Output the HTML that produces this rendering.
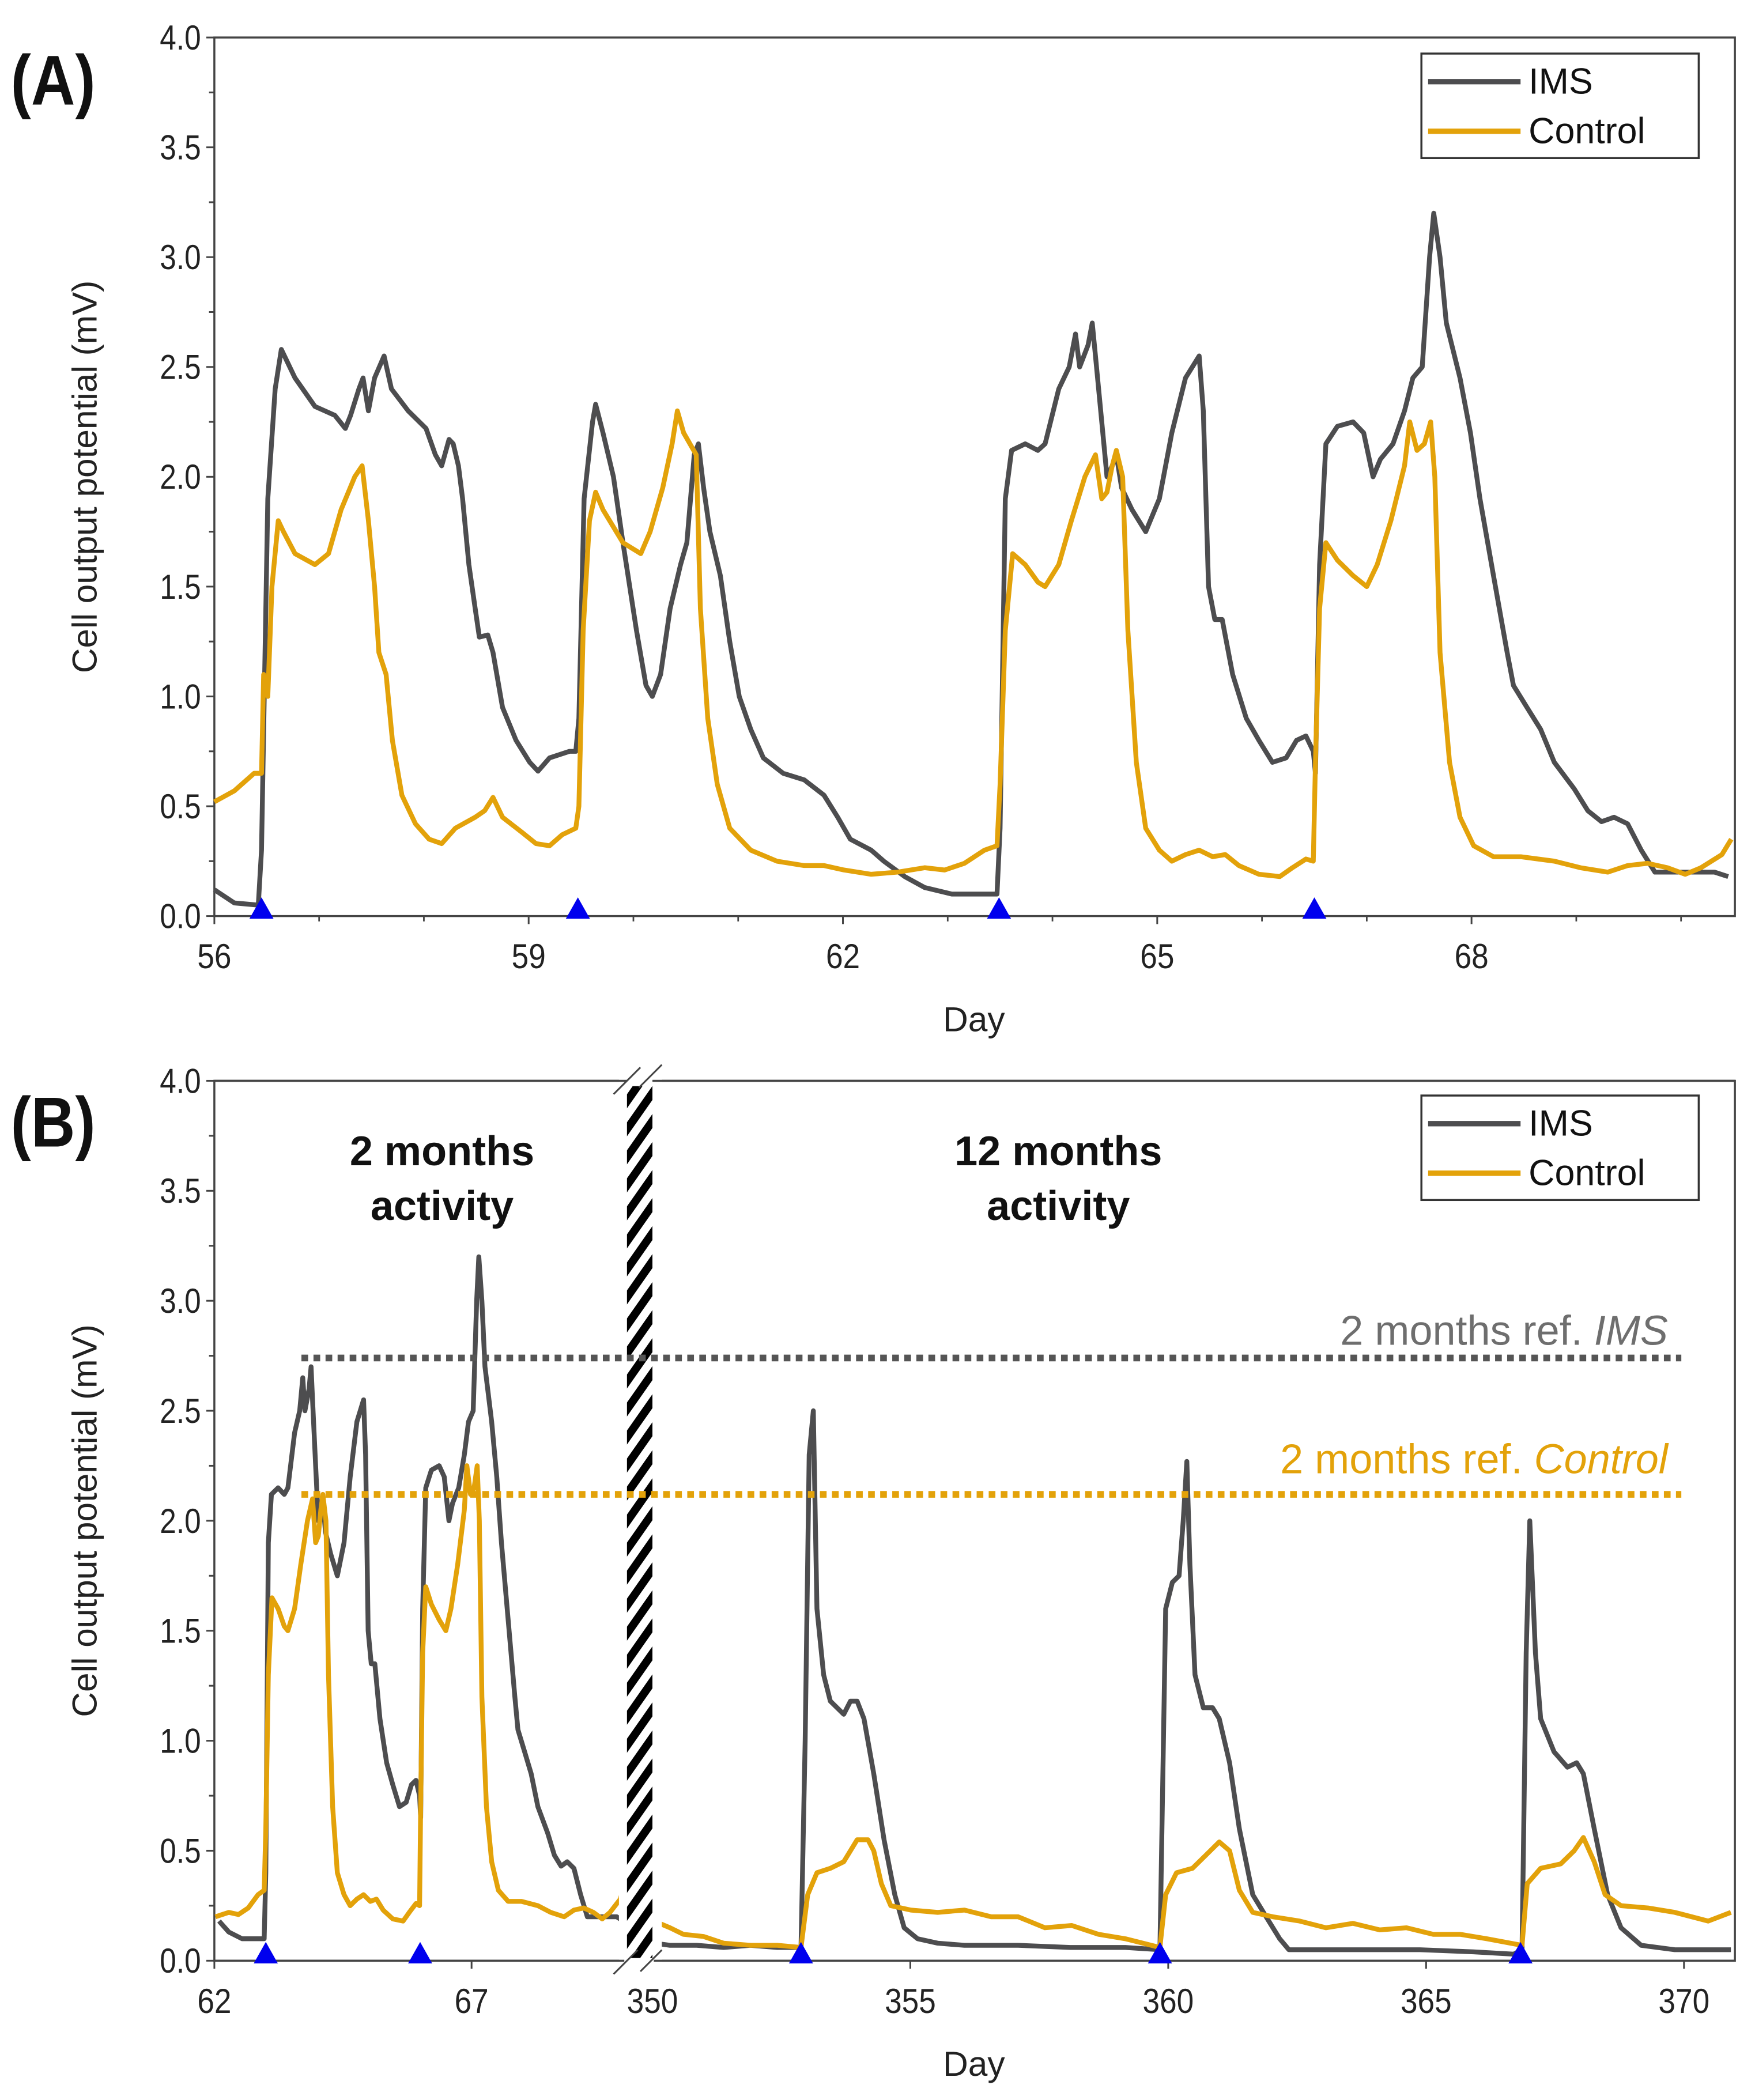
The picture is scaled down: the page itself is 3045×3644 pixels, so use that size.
<!DOCTYPE html>
<html><head><meta charset="utf-8"><style>
html,body{margin:0;padding:0;background:#fff}
svg{display:block}
text{font-family:"Liberation Sans",sans-serif}
</style></head><body>
<svg id="fig" width="3045" height="3644" viewBox="0 0 1310 1568" preserveAspectRatio="none" xmlns="http://www.w3.org/2000/svg">
<defs>
<pattern id="hatch" patternUnits="userSpaceOnUse" width="12" height="12" patternTransform="rotate(-55)">
<rect width="12" height="6" fill="#000"/>
</pattern>
</defs>
<g id="panelA"></g>
<g id="panelB"></g>
</svg>
<script>
// ---------- DATA ----------
const yTicks = [0.0,0.5,1.0,1.5,2.0,2.5,3.0,3.5,4.0];
const xTicksA = [56,59,62,65,68];
const xTicksBLeft = [62,67];
const xTicksBRight = [350,355,360,365,370];

const imsADays = [56.00,56.19,56.42,56.45,56.51,56.58,56.64,56.77,56.96,57.15,57.25,57.30,57.38,57.42,57.47,57.53,57.62,57.69,57.85,58.02,58.11,58.17,58.24,58.28,58.33,58.37,58.43,58.49,58.53,58.61,58.66,58.75,58.88,59.01,59.09,59.20,59.39,59.45,59.48,59.53,59.61,59.64,59.71,59.81,59.90,60.03,60.12,60.18,60.26,60.35,60.45,60.51,60.58,60.62,60.67,60.73,60.83,60.92,61.01,61.12,61.24,61.43,61.63,61.82,61.95,62.07,62.27,62.39,62.59,62.78,63.04,63.47,63.50,63.55,63.61,63.74,63.86,63.93,64.06,64.16,64.22,64.26,64.34,64.38,64.41,64.47,64.52,64.57,64.61,64.66,64.76,64.89,65.02,65.14,65.27,65.40,65.44,65.49,65.55,65.62,65.72,65.85,65.97,66.10,66.23,66.33,66.42,66.49,66.51,66.55,66.61,66.72,66.87,66.97,67.06,67.13,67.25,67.36,67.44,67.53,67.60,67.64,67.70,67.76,67.89,67.99,68.08,68.21,68.34,68.40,68.53,68.66,68.79,68.98,69.11,69.24,69.36,69.49,69.62,69.75,69.94,70.32,70.45];
const imsAVals = [0.12,0.06,0.05,0.3,1.9,2.4,2.58,2.45,2.32,2.28,2.22,2.28,2.4,2.45,2.3,2.45,2.55,2.4,2.3,2.22,2.1,2.05,2.17,2.15,2.05,1.9,1.6,1.4,1.27,1.28,1.2,0.95,0.8,0.7,0.66,0.72,0.75,0.75,0.9,1.9,2.25,2.33,2.2,2.0,1.7,1.3,1.05,1.0,1.1,1.4,1.6,1.7,2.1,2.15,1.95,1.75,1.55,1.25,1.0,0.85,0.72,0.65,0.62,0.55,0.45,0.35,0.3,0.25,0.18,0.13,0.1,0.1,0.4,1.9,2.12,2.15,2.12,2.15,2.4,2.5,2.65,2.5,2.6,2.7,2.55,2.25,2.0,2.05,2.1,1.95,1.85,1.75,1.9,2.2,2.45,2.55,2.3,1.5,1.35,1.35,1.1,0.9,0.8,0.7,0.72,0.8,0.82,0.75,0.65,1.6,2.15,2.23,2.25,2.2,2.0,2.08,2.15,2.3,2.45,2.5,3.0,3.2,3.0,2.7,2.45,2.2,1.9,1.55,1.2,1.05,0.95,0.85,0.7,0.58,0.48,0.43,0.45,0.42,0.3,0.2,0.2,0.2,0.18];

const ctrlADays = [56.00,56.19,56.38,56.45,56.47,56.51,56.55,56.61,56.66,56.77,56.96,57.09,57.21,57.34,57.41,57.47,57.53,57.57,57.64,57.70,57.79,57.92,58.05,58.17,58.30,58.49,58.58,58.66,58.75,58.94,59.07,59.20,59.32,59.45,59.48,59.52,59.58,59.64,59.71,59.90,60.07,60.16,60.28,60.37,60.42,60.48,60.54,60.60,60.64,60.71,60.80,60.92,61.12,61.37,61.63,61.82,62.01,62.27,62.52,62.78,62.97,63.16,63.35,63.47,63.50,63.55,63.62,63.74,63.86,63.93,64.06,64.18,64.31,64.41,64.47,64.52,64.57,64.61,64.67,64.72,64.80,64.89,65.02,65.14,65.27,65.40,65.53,65.65,65.78,65.97,66.17,66.29,66.42,66.49,66.51,66.55,66.61,66.72,66.87,67.00,67.10,67.23,67.36,67.41,67.48,67.55,67.61,67.65,67.70,67.79,67.89,68.02,68.21,68.47,68.79,69.04,69.30,69.49,69.68,69.87,70.04,70.19,70.39,70.48];
const ctrlAVals = [0.52,0.57,0.65,0.65,1.1,1.0,1.5,1.8,1.75,1.65,1.6,1.65,1.85,2.0,2.05,1.8,1.5,1.2,1.1,0.8,0.55,0.42,0.35,0.33,0.4,0.45,0.48,0.54,0.45,0.38,0.33,0.32,0.37,0.4,0.5,1.3,1.8,1.93,1.85,1.7,1.65,1.75,1.95,2.15,2.3,2.2,2.15,2.1,1.4,0.9,0.6,0.4,0.3,0.25,0.23,0.23,0.21,0.19,0.2,0.22,0.21,0.24,0.3,0.32,0.6,1.3,1.65,1.6,1.52,1.5,1.6,1.8,2.0,2.1,1.9,1.93,2.05,2.12,2.0,1.3,0.7,0.4,0.3,0.25,0.28,0.3,0.27,0.28,0.23,0.19,0.18,0.22,0.26,0.25,0.7,1.4,1.7,1.62,1.55,1.5,1.6,1.8,2.05,2.25,2.12,2.15,2.25,2.0,1.2,0.7,0.45,0.32,0.27,0.27,0.25,0.22,0.2,0.23,0.24,0.22,0.19,0.22,0.28,0.35];

// Panel B left segment re-plots the 2-month record with a day offset
const bLeftDayOffset = -0.5;

const imsBRDays = [350.03,350.34,350.86,351.38,351.90,352.42,352.88,352.96,353.04,353.12,353.19,353.32,353.45,353.71,353.84,353.97,354.10,354.29,354.49,354.70,354.88,355.14,355.53,356.05,357.09,358.10,359.17,359.84,359.95,360.08,360.21,360.29,360.36,360.42,360.52,360.68,360.86,360.99,361.19,361.38,361.64,361.90,362.16,362.34,362.81,363.84,364.88,365.92,366.70,366.86,366.94,367.01,367.12,367.22,367.48,367.74,367.92,368.05,368.26,368.52,368.78,369.17,369.82,370.91];
const imsBRVals = [0.08,0.07,0.07,0.06,0.07,0.06,0.06,1.0,2.3,2.5,1.6,1.3,1.18,1.12,1.18,1.18,1.1,0.85,0.55,0.3,0.15,0.1,0.08,0.07,0.07,0.06,0.06,0.05,1.6,1.72,1.75,2.0,2.27,1.8,1.3,1.15,1.15,1.1,0.9,0.6,0.3,0.2,0.1,0.05,0.05,0.05,0.05,0.04,0.03,0.05,1.4,2.0,1.4,1.1,0.95,0.88,0.9,0.85,0.6,0.3,0.15,0.07,0.05,0.05];
const ctrlBRDays = [350.03,350.34,350.60,350.99,351.38,351.90,352.42,352.88,353.01,353.19,353.45,353.71,353.97,354.18,354.29,354.44,354.62,355.01,355.53,356.05,356.57,357.09,357.61,358.13,358.65,359.17,359.84,359.95,360.16,360.47,360.73,360.99,361.19,361.38,361.64,362.03,362.55,363.06,363.58,364.10,364.62,365.14,365.66,366.18,366.86,366.96,367.22,367.61,367.87,368.05,368.26,368.47,368.78,369.30,369.82,370.47,370.91];
const ctrlBRVals = [0.18,0.15,0.12,0.11,0.08,0.07,0.07,0.06,0.3,0.4,0.42,0.45,0.55,0.55,0.5,0.35,0.25,0.23,0.22,0.23,0.2,0.2,0.15,0.16,0.12,0.1,0.06,0.3,0.4,0.42,0.48,0.54,0.5,0.32,0.22,0.2,0.18,0.15,0.17,0.14,0.15,0.12,0.12,0.1,0.07,0.35,0.42,0.44,0.5,0.56,0.45,0.3,0.25,0.24,0.22,0.18,0.22];

const triA = [56.45,59.47,63.49,66.5];
const triBLeft = [63.0,66.0];
const triBRight = [352.88,359.84,366.83];
const refIMS = 2.74;
const refControl = 2.12;

// ---------- DRAWING ----------
const NS = "http://www.w3.org/2000/svg";
const IMS_C = "#4d4d4f", CTRL_C = "#e3a20a";
function mk(parent, tag, attrs, txt){
  const e = document.createElementNS(NS, tag);
  for (const k in attrs) e.setAttribute(k, attrs[k]);
  if (txt !== undefined) e.textContent = txt;
  parent.appendChild(e);
  return e;
}
const PL = 160, PR = 1295;

function drawFrame(g, top, bot, yScale){
  const f = mk(g,'rect',{x:PL,y:top,width:PR-PL,height:bot-top,fill:'none',stroke:'#444','stroke-width':1.5});
  
  
  for (let v=0; v<=4.0001; v+=0.25){
    const y = yScale(v);
    const isMaj = Math.abs(v*2-Math.round(v*2))<1e-6;
    const t = mk(g,'line',{x1:PL-(isMaj?6:4),x2:PL,y1:y,y2:y,stroke:'#444','stroke-width':1.3});
    
    
  }
  yTicks.forEach(v=>{
    const t = mk(g,'text',{x:PL-10,y:yScale(v)+9,'text-anchor':'end','font-size':26,fill:'#222',transform:`translate(${PL-10},${yScale(v)+9}) scale(0.85,1) translate(${-(PL-10)},${-(yScale(v)+9)})`}, v.toFixed(1));
    
    
  });
  const cy = (top+bot)/2;
  const yl = mk(g,'text',{x:0,y:0,'text-anchor':'middle','font-size':26,fill:'#222',transform:`translate(72,${cy}) rotate(-90)`}, 'Cell output potential (mV)');
  
  
  const xl = mk(g,'text',{x:727,y:bot+86,'text-anchor':'middle','font-size':26,fill:'#222'}, 'Day');
  
  
}
function xTick(g, x, bot, label){
  const t = mk(g,'line',{x1:x,x2:x,y1:bot,y2:bot+6,stroke:'#444','stroke-width':1.3});
  
  
  const l = mk(g,'text',{x:x,y:bot+39,'text-anchor':'middle','font-size':26,fill:'#222',transform:`translate(${x},0) scale(0.88,1) translate(${-x},0)`}, label);
  
  
}
function line(g, days, vals, xs, ys, color, name, clip, w){
  let d='';
  for (let i=0;i<days.length;i++){
    const x = xs(days[i]);
    if (clip && (x<clip[0]-0.5 || x>clip[1]+0.5)) continue;
    d += (d?'L':'M') + x.toFixed(1) + ',' + ys(vals[i]).toFixed(1);
  }
  const p = mk(g,'path',{d:d,fill:'none',stroke:color,'stroke-width':w||3.6,'stroke-linejoin':'round'});
  
  
}
function triangles(g, days, xs, bot){
  days.forEach(dd=>{
    const x = xs(dd);
    const t = mk(g,'polygon',{points:`${x-9},${bot+2} ${x+9},${bot+2} ${x},${bot-14}`,fill:'#0000ee'});
    
    
  });
}
function legend(g, y0){
  const b = mk(g,'rect',{x:1061,y:y0,width:207,height:78,fill:'#fff',stroke:'#333','stroke-width':1.5});
  
  
  [['IMS',IMS_C,y0+21],['Control',CTRL_C,y0+58]].forEach(([n,c,y])=>{
    const l = mk(g,'line',{x1:1066,x2:1135,y1:y,y2:y,stroke:c,'stroke-width':4});
    
    
    const t = mk(g,'text',{x:1141,y:y+9,'font-size':27,fill:'#111'}, n);
    
    
  });
}
function panelLabel(g, y, s){
  const t = mk(g,'text',{x:8,y:y,'font-size':48,'font-weight':'bold',fill:'#111',transform:`translate(8,${y}) scale(0.95,1.1) translate(-8,${-y})`}, s);
  
  
}

// Panel A
(function(){
  const g = document.getElementById('panelA');
  const top=28, bot=684;
  const ys = v => bot - v*(bot-top)/4;
  const xs = d => PL + (d-56)*78.2;
  drawFrame(g, top, bot, ys);
  for (let d=56; d<=70; d+=1){ if (!xTicksA.includes(d)){ const m=mk(g,'line',{x1:xs(d),x2:xs(d),y1:bot,y2:bot+4,stroke:'#444','stroke-width':1.2});   } }
  xTicksA.forEach(d=>xTick(g, xs(d), bot, String(d)));
  line(g, imsADays, imsAVals, xs, ys, IMS_C, 'ims-line');
  line(g, ctrlADays, ctrlAVals, xs, ys, CTRL_C, 'control-line');
  triangles(g, triA, xs, bot);
  legend(g, 40);
  panelLabel(g, 78, '(A)');
})();

// Panel B
(function(){
  const g = document.getElementById('panelB');
  const top=807, bot=1464;
  const ys = v => bot - v*(bot-top)/4;
  const xl = d => PL + (d-62)*38.4;
  const xr = d => 487 + (d-350)*38.5;
  drawFrame(g, top, bot, ys);
  xTicksBLeft.forEach(d=>xTick(g, xl(d), bot, String(d)));
  xTicksBRight.forEach(d=>xTick(g, xr(d), bot, String(d)));
  const shiftedD1 = imsADays.map(d=>d+bLeftDayOffset);
  const shiftedD2 = ctrlADays.map(d=>d+bLeftDayOffset);
  line(g, shiftedD1, imsAVals, xl, ys, IMS_C, 'ims-line-2months', [PL,466]);
  line(g, shiftedD2, ctrlAVals, xl, ys, CTRL_C, 'control-line-2months', [PL,466]);
  line(g, imsBRDays, imsBRVals, xr, ys, IMS_C, 'ims-line-12months');
  line(g, ctrlBRDays, ctrlBRVals, xr, ys, CTRL_C, 'control-line-12months');
  // axis break
  const wb = mk(g,'rect',{x:462,y:top-12,width:32,height:bot-top+26,fill:'#fff'});
  
  
  const hb = mk(g,'rect',{x:468,y:top+4,width:19,height:bot-top-6,fill:'url(#hatch)'});
  
  
  mk(g,'line',{x1:PL,x2:468,y1:top,y2:top,stroke:'#444','stroke-width':1.5});
  mk(g,'line',{x1:487,x2:PR,y1:top,y2:top,stroke:'#444','stroke-width':1.5});
  mk(g,'line',{x1:PL,x2:466,y1:bot,y2:bot,stroke:'#444','stroke-width':1.5});
  mk(g,'line',{x1:488,x2:PR,y1:bot,y2:bot,stroke:'#444','stroke-width':1.5});
  [[458,top+10,478,top-10],[477,top+5,494,top-12],[458,bot+10,476,bot-8],[478,bot+8,494,bot-8]].forEach(s=>{
    const l = mk(g,'line',{x1:s[0],y1:s[1],x2:s[2],y2:s[3],stroke:'#444','stroke-width':1.3});
    
    
  });
  // reference lines (drawn over the break)
  const r1 = mk(g,'line',{x1:225,x2:1255,y1:ys(refIMS),y2:ys(refIMS),stroke:'#555','stroke-width':5,'stroke-dasharray':'5,4'});
  
  
  const r2 = mk(g,'line',{x1:225,x2:1255,y1:ys(refControl),y2:ys(refControl),stroke:CTRL_C,'stroke-width':5,'stroke-dasharray':'5,4'});
  
  
  triangles(g, triBLeft, xl, bot);
  triangles(g, triBRight, xr, bot);
  legend(g, 818);
  panelLabel(g, 856, '(B)');
  [['2 months',330,870],['activity',330,911],['12 months',790,870],['activity',790,911]].forEach(([t,x,y])=>{
    const e = mk(g,'text',{x:x,y:y,'text-anchor':'middle','font-size':31,'font-weight':'bold',fill:'#111'}, t);
    
    
  });
  const a1 = mk(g,'text',{x:1245,y:1004,'text-anchor':'end','font-size':31,fill:'#6e6e6e'});
  
  
  a1.appendChild(document.createTextNode('2 months ref. '));
  mk(a1,'tspan',{'font-style':'italic'},'IMS');
  const a2 = mk(g,'text',{x:1245,y:1100,'text-anchor':'end','font-size':31,fill:CTRL_C});
  
  
  a2.appendChild(document.createTextNode('2 months ref. '));
  mk(a2,'tspan',{'font-style':'italic'},'Control');
})();
</script>
</body></html>
